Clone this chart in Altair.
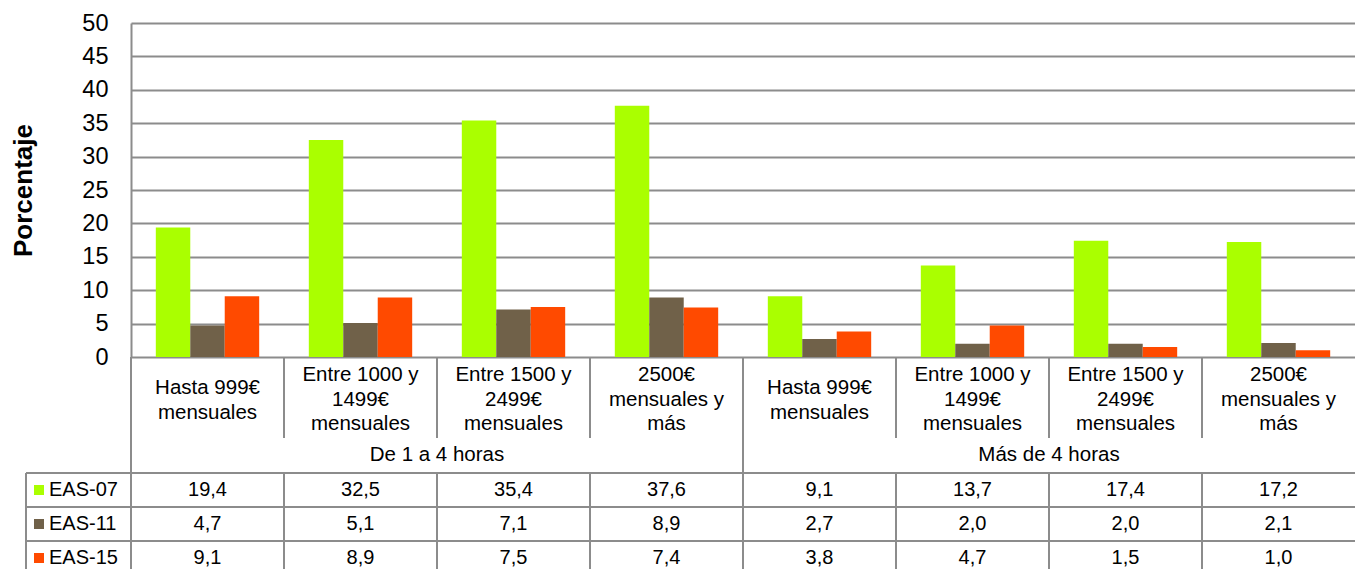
import altair as alt
import pandas as pd

groups = ["De 1 a 4 horas", "Más de 4 horas"]
incomes = [
    "Hasta 999€\nmensuales",
    "Entre 1000 y\n1499€\nmensuales",
    "Entre 1500 y\n2499€\nmensuales",
    "2500€\nmensuales y\nmás",
]
series = ["EAS-07", "EAS-11", "EAS-15"]
colors = ["#AAFF00", "#706149", "#FF4A00"]
eas07 = [19.4, 32.5, 35.4, 37.6, 9.1, 13.7, 17.4, 17.2]
eas11 = [4.7, 5.1, 7.1, 8.9, 2.7, 2.0, 2.0, 2.1]
eas15 = [9.1, 8.9, 7.5, 7.4, 3.8, 4.7, 1.5, 1.0]
y_ticks = list(range(0, 51, 5))

W = 1224
H = 546
FONT = "Liberation Sans"
LINE = "#8c8c8c"

keys = [f"{g}|{i}" for g in groups for i in incomes]
inc_labels = [i for g in groups for i in incomes]

rows = []
for s, vals in zip(series, [eas07, eas11, eas15]):
    for k, v in zip(keys, vals):
        rows.append({"key": k, "series": s, "value": v,
                     "label": f"{v:.1f}".replace(".", ",")})
df = pd.DataFrame(rows)

cats = pd.DataFrame({"key": keys, "inc": inc_labels,
                     "nlines": [s.count("\n") + 1 for s in inc_labels]})
cats2 = cats[cats["nlines"] == 2]
cats3 = cats[cats["nlines"] == 3]
grp = pd.DataFrame({"key": [keys[2], keys[6]], "grp": groups})
div = pd.DataFrame({"key": keys[1:]})
cont = pd.DataFrame({"key": [keys[0], keys[4]]})
ser = pd.DataFrame({"series": series})

xs = alt.Scale(domain=keys, paddingInner=0, paddingOuter=0)
ys_tab = alt.Scale(type="band", domain=series, range=[450, 552], paddingInner=0, paddingOuter=0)
cs = alt.Scale(domain=series, range=colors)

bars = alt.Chart(df).mark_bar().encode(
    x=alt.X("key:N", scale=xs, axis=None, sort=None),
    xOffset=alt.XOffset("series:N", scale=alt.Scale(domain=series, paddingInner=0, paddingOuter=0.72)),
    y=alt.Y("value:Q", scale=alt.Scale(domain=[0, 50], range=[334, 0], nice=False),
            axis=alt.Axis(values=y_ticks, title="Porcentaje", grid=True, gridColor=LINE, gridWidth=2,
                          domainColor=LINE, domainWidth=2, ticks=False, tickSize=0, labelPadding=23,
                          labelFont=FONT, labelFontSize=23.5, labelColor="black",
                          titleFont=FONT, titleFontSize=26, titleFontWeight="bold", titleColor="black",
                          titleX=-108, titleY=167, titleAngle=270, titleAlign="center",
                          titleBaseline="middle")),
    color=alt.Color("series:N", scale=cs, legend=None),
)


def cat_layer(data, y0):
    return alt.Chart(data).mark_text(font=FONT, fontSize=20.5, lineBreak="\n", lineHeight=24.5,
                                     baseline="middle", align="center", color="black").encode(
        x=alt.X("key:N", scale=xs, axis=None, bandPosition=0.5),
        y=alt.value(y0),
        text="inc:N",
    )


cat_text2 = cat_layer(cats2, 365)
cat_text3 = cat_layer(cats3, 352)

grp_text = alt.Chart(grp).mark_text(font=FONT, fontSize=20.5, baseline="middle", align="center",
                                    color="black").encode(
    x=alt.X("key:N", scale=xs, axis=None, bandPosition=0),
    y=alt.value(432),
    text="grp:N",
)

div_top = alt.Chart(div).mark_rule(color=LINE, strokeWidth=2).encode(
    x=alt.X("key:N", scale=xs, axis=None, bandPosition=0),
    y=alt.value(334), y2=alt.value(415),
)
div_tab = alt.Chart(div).mark_rule(color=LINE, strokeWidth=2).encode(
    x=alt.X("key:N", scale=xs, axis=None, bandPosition=0),
    y=alt.value(450), y2=alt.value(H),
)
div_cont = alt.Chart(cont).mark_rule(color=LINE, strokeWidth=2).encode(
    x=alt.X("key:N", scale=xs, axis=None, bandPosition=0),
    y=alt.value(334), y2=alt.value(H),
)
left_border = alt.Chart(ser.head(1)).mark_rule(color=LINE, strokeWidth=2).encode(
    x=alt.value(-105), y=alt.value(450), y2=alt.value(H),
)
hlines = alt.Chart(ser).mark_rule(color=LINE, strokeWidth=2).encode(
    y=alt.Y("series:N", scale=ys_tab, axis=None, bandPosition=0),
    x=alt.value(-105), x2=alt.value(W),
)
swatch = alt.Chart(ser).mark_square(size=100, opacity=1).encode(
    y=alt.Y("series:N", scale=ys_tab, axis=None, bandPosition=0.5),
    x=alt.value(-92),
    color=alt.Color("series:N", scale=cs, legend=None),
)
ser_text = alt.Chart(ser).mark_text(font=FONT, fontSize=20, align="left", baseline="middle",
                                    color="black").encode(
    y=alt.Y("series:N", scale=ys_tab, axis=None, bandPosition=0.5),
    x=alt.value(-82),
    text="series:N",
)
cell_text = alt.Chart(df).mark_text(font=FONT, fontSize=20, align="center", baseline="middle",
                                    color="black").encode(
    x=alt.X("key:N", scale=xs, axis=None, bandPosition=0.5),
    y=alt.Y("series:N", scale=ys_tab, axis=None, bandPosition=0.5),
    text="label:N",
)

chart = alt.layer(
    bars, div_top, div_tab, div_cont, left_border, hlines, swatch, ser_text, cell_text,
    cat_text2, cat_text3, grp_text,
).resolve_scale(y="independent", color="shared").properties(
    width=W, height=H,
    padding={"left": 123, "top": 15, "right": 0, "bottom": 0},
    autosize=alt.AutoSizeParams(type="none"),
    background="white",
).configure_view(stroke=None)

chart.save("out.html", embed_options={"renderer": "svg", "actions": False})
